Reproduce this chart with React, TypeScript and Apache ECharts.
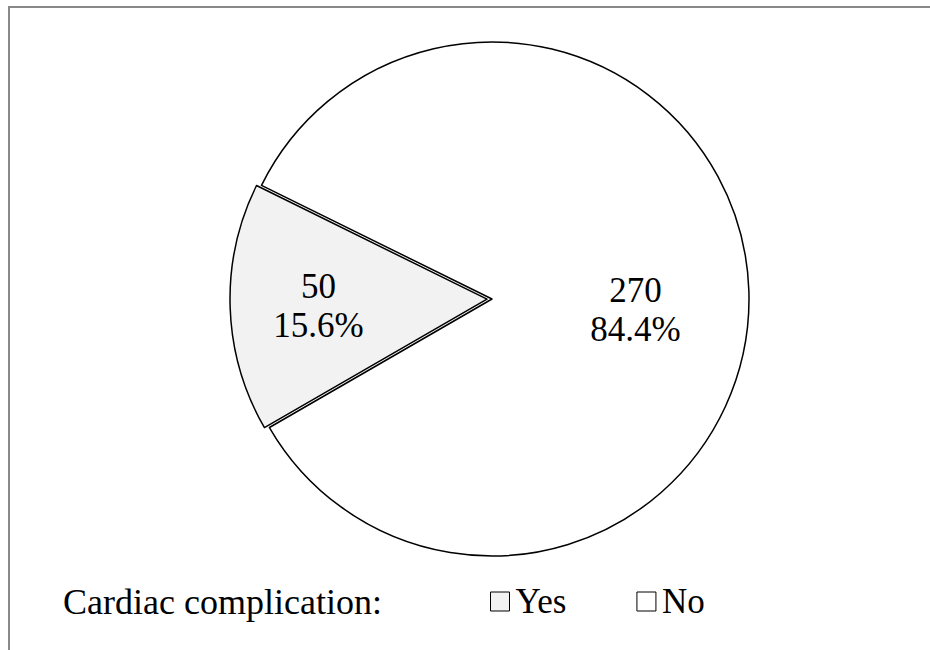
import React, { useEffect, useRef } from "react";
import * as echarts from "echarts";

const categories = ["Yes", "No"];
const counts = [50, 270];
const sliceColors = ["#f2f2f2", "#ffffff"];
const legendTitle = "Cardiac complication:";

const FONT = "'Liberation Serif', 'Times New Roman', serif";

export default function App() {
  const ref = useRef<HTMLDivElement>(null);
  useEffect(() => {
    if (!ref.current) return;
    const chart = echarts.init(ref.current, undefined, { renderer: "svg" });
    const labelShift = [
      { dx: -37, dy: 3 },
      { dx: 12, dy: 15 },
    ];
    chart.setOption({
      animation: false,
      backgroundColor: "#ffffff",
      graphic: [
        {
          type: "line",
          shape: { x1: 8, y1: 7, x2: 930, y2: 7 },
          style: { stroke: "#888888", lineWidth: 2 },
        },
        {
          type: "line",
          shape: { x1: 9, y1: 6, x2: 9, y2: 650 },
          style: { stroke: "#888888", lineWidth: 2 },
        },
        {
          type: "text",
          left: 63,
          top: 584,
          style: {
            text: legendTitle,
            font: `36px ${FONT}`,
            fill: "#000000",
          },
        },
      ],
      legend: {
        left: 485,
        top: 579,
        icon: "rect",
        itemWidth: 19,
        itemHeight: 19,
        itemGap: 70,
        selectedMode: false,
        data: categories,
        textStyle: {
          fontFamily: FONT,
          fontSize: 35,
          color: "#000000",
          padding: [0, 0, 0, 1],
        },
        itemStyle: { borderColor: "#000000", borderWidth: 1 },
      },
      series: [
        {
          type: "pie",
          center: [492, 299],
          radius: 257,
          startAngle: 210,
          clockwise: true,
          silent: true,
          selectedMode: "single",
          selectedOffset: 5,
          percentPrecision: 1,
          data: categories.map((name, i) => ({
            name,
            value: counts[i],
            selected: i === 0,
            itemStyle: { color: sliceColors[i] },
          })),
          itemStyle: { borderColor: "#000000", borderWidth: 1.5 },
          label: {
            show: true,
            position: "inside",
            formatter: "{c}\n{d}%",
            fontFamily: FONT,
            fontSize: 35,
            lineHeight: 39,
            color: "#000000",
          },
          labelLine: { show: false },
          emphasis: { disabled: true },
          labelLayout: (params: any) => labelShift[params.dataIndex],
        },
      ],
    });
    return () => chart.dispose();
  }, []);
  return (
    <div
      ref={ref}
      style={{ position: "absolute", left: 0, top: 0, width: 930, height: 650 }}
    />
  );
}
